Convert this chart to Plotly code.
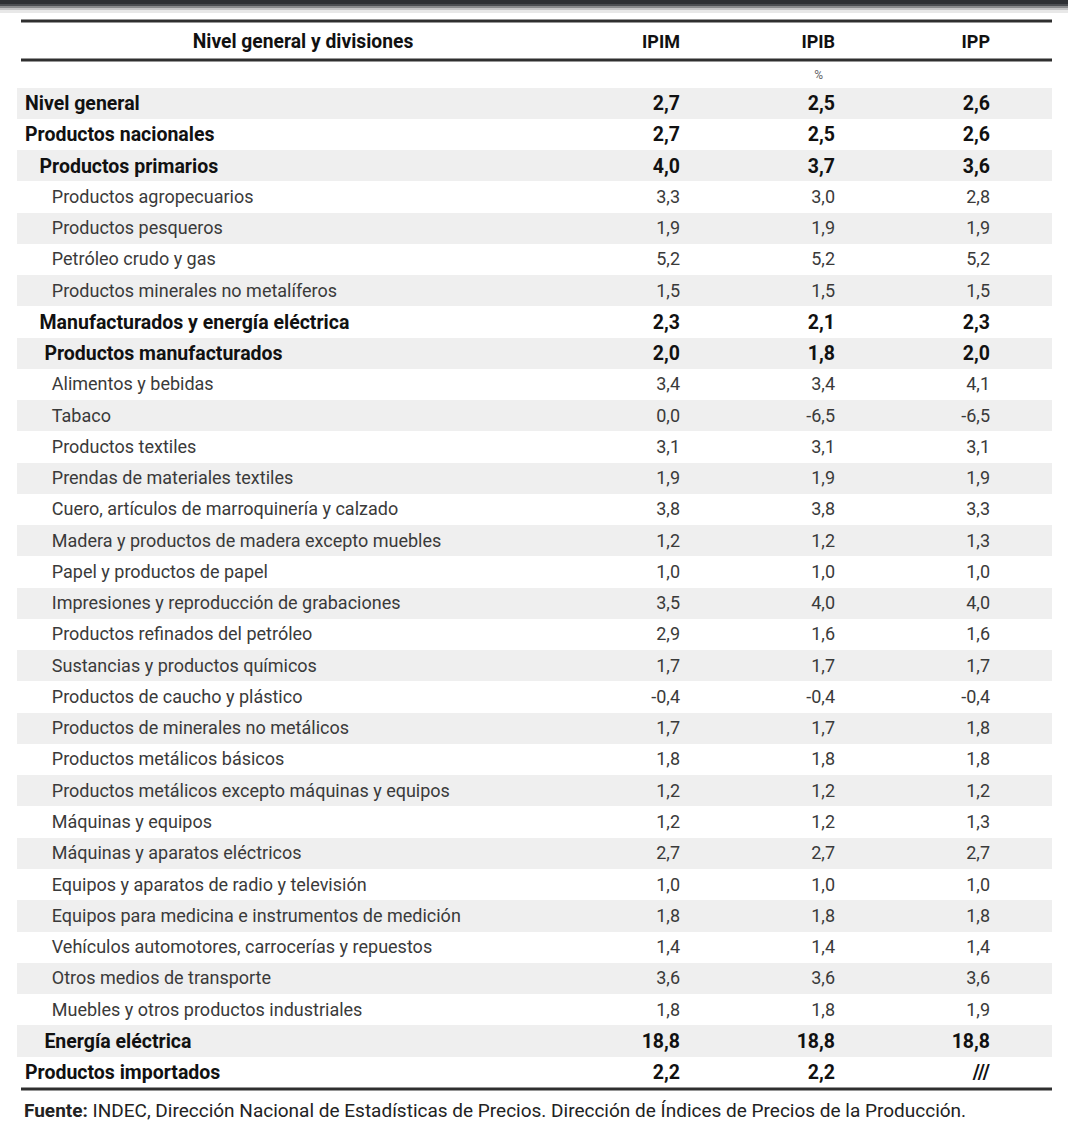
import plotly.graph_objects as go

# ---------------- data ----------------
labels = [
    "Nivel general", "Productos nacionales", "Productos primarios",
    "Productos agropecuarios", "Productos pesqueros", "Petróleo crudo y gas",
    "Productos minerales no metalíferos", "Manufacturados y energía eléctrica",
    "Productos manufacturados", "Alimentos y bebidas", "Tabaco",
    "Productos textiles", "Prendas de materiales textiles",
    "Cuero, artículos de marroquinería y calzado",
    "Madera y productos de madera excepto muebles", "Papel y productos de papel",
    "Impresiones y reproducción de grabaciones", "Productos refinados del petróleo",
    "Sustancias y productos químicos", "Productos de caucho y plástico",
    "Productos de minerales no metálicos", "Productos metálicos básicos",
    "Productos metálicos excepto máquinas y equipos", "Máquinas y equipos",
    "Máquinas y aparatos eléctricos", "Equipos y aparatos de radio y televisión",
    "Equipos para medicina e instrumentos de medición",
    "Vehículos automotores, carrocerías y repuestos", "Otros medios de transporte",
    "Muebles y otros productos industriales", "Energía eléctrica",
    "Productos importados",
]
levels = [0, 0, 1, 3, 3, 3, 3, 1, 2, 3, 3, 3, 3, 3, 3, 3, 3, 3, 3, 3, 3, 3, 3, 3,
          3, 3, 3, 3, 3, 3, 2, 0]
bold = [True, True, True, False, False, False, False, True, True] + [False] * 21 + [True, True]

ipim = ["2,7", "2,7", "4,0", "3,3", "1,9", "5,2", "1,5", "2,3", "2,0", "3,4", "0,0",
        "3,1", "1,9", "3,8", "1,2", "1,0", "3,5", "2,9", "1,7", "-0,4", "1,7", "1,8",
        "1,2", "1,2", "2,7", "1,0", "1,8", "1,4", "3,6", "1,8", "18,8", "2,2"]
ipib = ["2,5", "2,5", "3,7", "3,0", "1,9", "5,2", "1,5", "2,1", "1,8", "3,4", "-6,5",
        "3,1", "1,9", "3,8", "1,2", "1,0", "4,0", "1,6", "1,7", "-0,4", "1,7", "1,8",
        "1,2", "1,2", "2,7", "1,0", "1,8", "1,4", "3,6", "1,8", "18,8", "2,2"]
ipp = ["2,6", "2,6", "3,6", "2,8", "1,9", "5,2", "1,5", "2,3", "2,0", "4,1", "-6,5",
       "3,1", "1,9", "3,3", "1,3", "1,0", "4,0", "1,6", "1,7", "-0,4", "1,8", "1,8",
       "1,2", "1,3", "2,7", "1,0", "1,8", "1,4", "3,6", "1,9", "18,8", "///"]

headers = ["Nivel general y divisiones", "IPIM", "IPIB", "IPP"]
unit_row = ["", "", "%", ""]
source_label = "Fuente:"
source_text = " INDEC, Dirección Nacional de Estadísticas de Precios. Dirección de Índices de Precios de la Producción."

# ---------------- styling ----------------
W, H = 1068, 1137
FONT = "Roboto, Liberation Sans, sans-serif"
NB = "\u00a0"
indent_regular = {0: 0, 1: 3, 2: 4, 3: 6}
indent_bold = {0: 0, 1: 3, 2: 4, 3: 6}

n = len(labels)
x0, x1 = 17, 1052
colw = [572, 99, 155, 155, 54]  # label | IPIM | IPIB | IPP | spacer (px)
top = 26
header_h = 30.26
cell_h = 31.26
aligns = ["left", "right", "right", "right", "right"]
clear = "rgba(0,0,0,0)"


def column(values, want_bold, indent=None):
    out = [""]  # unit row
    for i, v in enumerate(values):
        if bold[i] != want_bold:
            out.append("")
        elif indent is not None:
            out.append(NB * indent[levels[i]] + v)
        else:
            out.append(v)
    return out


fills = ["white"] + ["#efefef" if i % 2 == 0 else "white" for i in range(n)]
blank = [""] * (n + 1)


def table(cols, size, weight, color, fill, header_values, header_fill, top_px=top):
    return go.Table(
        domain=dict(x=[x0 / W, x1 / W], y=[0, 1 - top_px / H]),
        columnwidth=colw,
        header=dict(values=header_values, align=["center", "right", "right", "right", "right"],
                    fill_color=header_fill, line_width=0, height=header_h,
                    font=dict(family=FONT, size=[19.3, 18, 18, 18, 18], color="#111",
                              weight="bold")),
        cells=dict(values=cols, align=aligns, fill_color=fill, line_width=0,
                   height=cell_h, font=dict(family=FONT, size=size, color=color, weight=weight)),
    )


# regular-weight rows (and the shaded bands)
t_regular = table(
    [column(labels, False, indent_regular), column(ipim, False), column(ipib, False),
     column(ipp, False), blank],
    18, "normal", "#3a3a3a", [fills] * 5, headers + [""], "white")
# bold rows overlaid on top
t_bold = table(
    [column(labels, True, indent_bold), column(ipim, True), column(ipib, True),
     column(ipp, True), blank],
    19.5, "bold", "#111111", clear, [""] * 5, clear)
# unit row ("%")
t_unit = table(
    [[u + NB * 4 if u else ""] + [""] * n for u in unit_row] + [blank],
    12, "normal", "#666666", clear, [""] * 5, clear, top_px=top + 6)

fig = go.Figure([t_regular, t_bold, t_unit])

shapes = []
# dark band at the top of the picture (screenshot edge)
for (a, b, c) in [(0, 4, "#2e3034"), (4, 6, "#4c4e52"), (6, 8, "#8a8b8d"),
                  (8, 10, "#c4c4c5"), (10, 13, "#e8e8e8")]:
    shapes.append(dict(type="rect", xref="paper", yref="paper", x0=0, x1=1,
                       y0=1 - b / H, y1=1 - a / H, fillcolor=c, line_width=0, layer="above"))
# horizontal rules
for yy in (21, 60, 1089):
    shapes.append(dict(type="line", xref="paper", yref="paper",
                       x0=21 / W, x1=1052 / W, y0=1 - yy / H, y1=1 - yy / H,
                       line=dict(color="#2f2f2f", width=3), layer="above"))

fig.update_layout(
    width=W, height=H,
    margin=dict(l=0, r=0, t=0, b=0),
    paper_bgcolor="white",
    shapes=shapes,
    annotations=[dict(
        x=22 / W, y=1 - 1110 / H, xref="paper", yref="paper",
        xanchor="left", yanchor="middle", showarrow=False,
        text=f"<b>{source_label}</b>{source_text}",
        font=dict(family=FONT, size=19, color="#222"),
    )],
)

fig.write_html("out.html", config={"displayModeBar": False},
               post_script="document.body.style.margin='0px';")
